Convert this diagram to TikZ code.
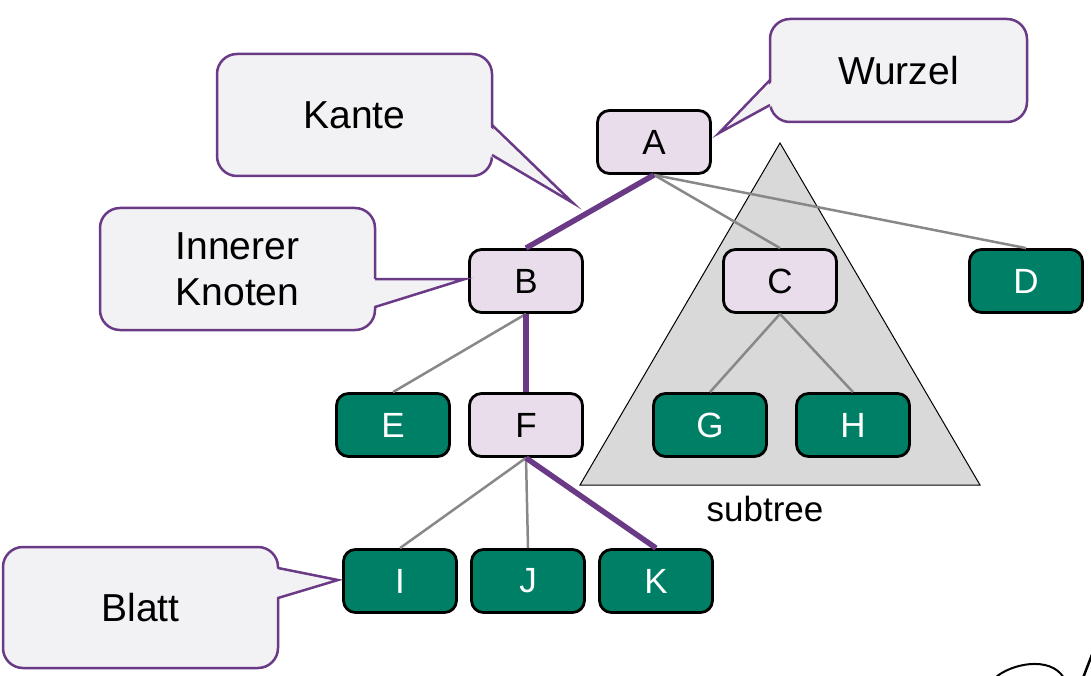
\documentclass[tikz,border=0pt]{standalone}
\usepackage{fontspec}
\setmainfont{Liberation Sans}
\definecolor{edgepurple}{RGB}{106,58,135}
\definecolor{callfill}{RGB}{242,241,243}
\definecolor{innerfill}{RGB}{233,221,236}
\definecolor{leaffill}{RGB}{0,127,103}
\definecolor{graylink}{RGB}{136,136,136}
\definecolor{trifill}{RGB}{217,217,217}
\tikzset{
  treenode/.style={draw=black, line width=2.8pt, rounded corners=12pt, minimum width=113pt, minimum height=63pt, inner sep=0pt, font=\fontsize{35}{35}\selectfont},
  innernode/.style={treenode, fill=innerfill, text=black},
  leafnode/.style={treenode, fill=leaffill, text=white},
  callout/.style={draw=edgepurple, line width=2.5pt, fill=callfill, rounded corners=20pt, inner sep=0pt, align=center, font=\fontsize{39}{46}\selectfont},
  thinlink/.style={draw=graylink, line width=2.5pt},
  thicklink/.style={draw=edgepurple, line width=5.5pt},
  pointerline/.style={draw=edgepurple, line width=2.5pt, line join=miter, miter limit=20}
}
\begin{document}
\begin{tikzpicture}[x=1pt,y=-1pt]
\useasboundingbox (0,0) rectangle (1091,676);
% subtree triangle
\draw[fill=trifill, draw=black, line width=1pt] (780,143) -- (980,485) -- (580,485) -- cycle;
\node[font=\fontsize{35}{35}\selectfont] (subtree) at (765,509) {subtree};
% tree nodes
\node[innernode] (A) at (654,142) {A};
\node[innernode] (B) at (526,281) {B};
\node[innernode] (C) at (780,281) {C};
\node[leafnode]  (D) at (1026,281) {D};
\node[leafnode]  (E) at (393,425) {E};
\node[innernode] (F) at (526,425) {F};
\node[leafnode]  (G) at (710,425) {G};
\node[leafnode]  (H) at (853,425) {H};
\node[leafnode]  (I) at (400,581) {I};
\node[leafnode]  (J) at (528,581) {J};
\node[leafnode]  (K) at (656,581) {K};
% edges
\draw[thinlink] (A.south) -- (C.north);
\draw[thinlink] (A.south) -- (D.north);
\draw[thicklink] (A.south) -- (B.north);
\draw[thinlink] (B.south) -- (E.north);
\draw[thicklink] (B.south) -- (F.north);
\draw[thinlink] (C.south) -- (G.north);
\draw[thinlink] (C.south) -- (H.north);
\draw[thinlink] (F.south) -- (I.north);
\draw[thinlink] (F.south) -- (J.north);
\draw[thicklink] (F.south) -- (K.north);
% callouts
\node[callout, minimum width=275pt, minimum height=122pt] (kante) at (354.5,115) {Kante};
\node[callout, minimum width=257pt, minimum height=103pt] (wurzel) at (898.5,70.5) {Wurzel};
\node[callout, minimum width=275pt, minimum height=122pt] (innerer) at (237.5,269) {Innerer\\Knoten};
\node[callout, minimum width=275pt, minimum height=121pt] (blatt) at (140.5,607.5) {Blatt};
% pointers
\coordinate (kantetip) at (573,203);
\fill[callfill] (488,125) -- (kantetip) -- (488,155) -- cycle;
\draw[pointerline] (492,125) -- (kantetip) -- (492,155);
\coordinate (wurzeltip) at (719,133);
\fill[callfill] (774,80) -- (wurzeltip) -- (774,105) -- cycle;
\draw[pointerline] (770,80) -- (wurzeltip) -- (770,105);
\coordinate (innerertip) at (465,279);
\fill[callfill] (371,279) -- (innerertip) -- (371,307) -- cycle;
\draw[pointerline] (375,279) -- (innerertip) -- (375,307);
\coordinate (blatttip) at (338,580);
\fill[callfill] (274,568) -- (blatttip) -- (274,598) -- cycle;
\draw[pointerline] (278,568) -- (blatttip) -- (278,598);
% cropped drawing at bottom right
\draw[line width=2pt, line cap=round] (995,678) .. controls (1010,664) and (1050,655) .. (1064,678);
\draw[line width=2.5pt] (1083,678) -- (1093,652);
\end{tikzpicture}
\end{document}
